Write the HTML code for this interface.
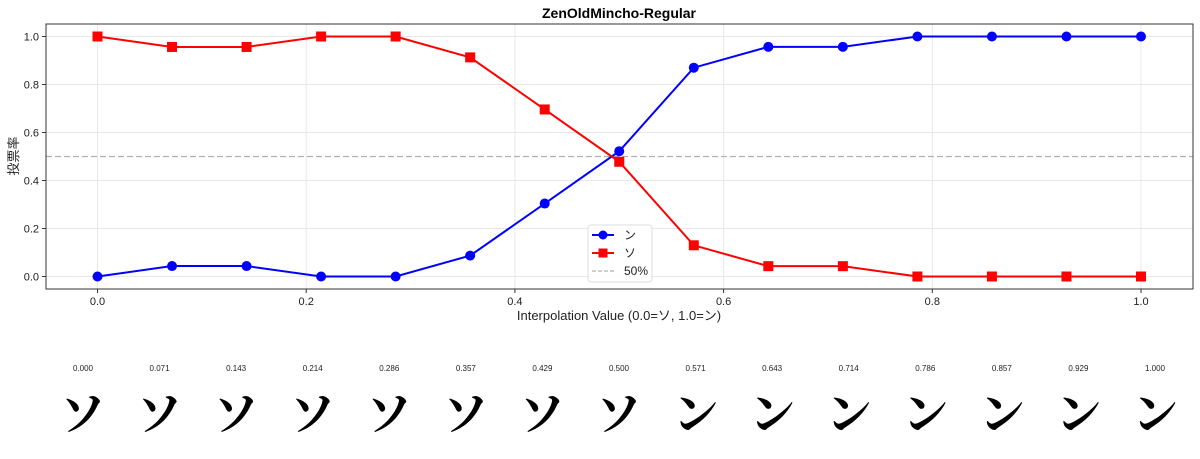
<!DOCTYPE html>
<html><head><meta charset="utf-8"><style>
body{margin:0;background:#fff;}
svg{display:block;font-family:"Liberation Sans","Noto Sans CJK JP",sans-serif;}
</style></head><body>
<svg id="s" width="1200" height="459" xmlns="http://www.w3.org/2000/svg">
<rect width="1200" height="459" fill="#fff"/>
<text x="619" y="18" text-anchor="middle" font-size="14" font-weight="bold" fill="#000">ZenOldMincho-Regular</text>
<g id="grid" stroke="#e8e8e8" stroke-width="1"></g>
<line x1="46" y1="156.5" x2="1193" y2="156.5" stroke="#b0b0b0" stroke-width="1.3" stroke-dasharray="6,3"/>
<g id="series"></g>
<rect x="46" y="24" width="1147" height="265" fill="none" stroke="#333" stroke-width="1"/>
<g id="ticks" font-size="11" fill="#222"></g>
<text x="619" y="320" text-anchor="middle" font-size="13" fill="#222">Interpolation Value (0.0=ソ, 1.0=ン)</text>
<text transform="translate(18,156) rotate(-90)" text-anchor="middle" font-size="13" fill="#222">投票率</text>
<g>
<rect x="588" y="225" width="64" height="57" rx="3" fill="#fff" fill-opacity="0.85" stroke="#ddd"/>
<line x1="592" y1="235" x2="614" y2="235" stroke="#0000ff" stroke-width="2"/><circle cx="603" cy="235" r="4.5" fill="#0000ff"/>
<text x="624" y="239" font-size="12" fill="#222">ン</text>
<line x1="592" y1="253" x2="614" y2="253" stroke="#ff0000" stroke-width="2"/><rect x="598.5" y="248.5" width="9" height="9" fill="#ff0000"/>
<text x="624" y="257" font-size="12" fill="#222">ソ</text>
<line x1="592" y1="271" x2="614" y2="271" stroke="#b0b0b0" stroke-width="1.3" stroke-dasharray="4,2"/>
<text x="624" y="275" font-size="12" fill="#222">50%</text>
</g>
<g id="glyphs"></g>
</svg>
<script>
var ns="http://www.w3.org/2000/svg";
function el(p,t,a,txt){var e=document.createElementNS(ns,t);for(var k in a)e.setAttribute(k,a[k]);if(txt!==undefined)e.textContent=txt;document.getElementById(p).appendChild(e);return e;}
var b=[0,.0435,.0435,0,0,.087,.304,.522,.870,.957,.957,1,1,1,1];
function X(v){return 97.5+v*1043.5;}function Y(v){return 276.5-240*v;}
for(var i=0;i<=5;i++){var v=i*0.2;
el("grid","line",{x1:X(v),y1:24,x2:X(v),y2:289});
el("grid","line",{x1:46,y1:Y(v),x2:1193,y2:Y(v)});
el("ticks","line",{x1:X(v),y1:289,x2:X(v),y2:293,stroke:"#333"});
el("ticks","line",{x1:42,y1:Y(v),x2:46,y2:Y(v),stroke:"#333"});
el("ticks","text",{x:X(v),y:305,"text-anchor":"middle"},v.toFixed(1));
el("ticks","text",{x:39,y:Y(v)+4,"text-anchor":"end"},v.toFixed(1));}
var pb="",pr="";
for(var i=0;i<15;i++){var x=X(i/14);pb+=(i?"L":"M")+x+","+Y(b[i]);pr+=(i?"L":"M")+x+","+Y(1-b[i]);}
el("series","path",{d:pb,fill:"none",stroke:"#0000ff","stroke-width":2});
el("series","path",{d:pr,fill:"none",stroke:"#ff0000","stroke-width":2});
for(var i=0;i<15;i++){var x=X(i/14);
el("series","circle",{cx:x,cy:Y(b[i]),r:5,fill:"#0000ff"});
el("series","rect",{x:x-5,y:Y(1-b[i])-5,width:10,height:10,fill:"#ff0000"});}
for(var i=0;i<15;i++){var cx=83+i*76.57;
el("glyphs","text",{x:cx,y:371,"text-anchor":"middle","font-size":"8",fill:"#222"},(i/14).toFixed(3));
el("glyphs","text",{x:cx,y:430,"text-anchor":"middle","font-size":"46","font-weight":"bold","font-family":"'Noto Serif CJK SC','Noto Sans CJK JP',serif",fill:"#000"},i<=7?"ソ":"ン");}
</script>
</body></html>
